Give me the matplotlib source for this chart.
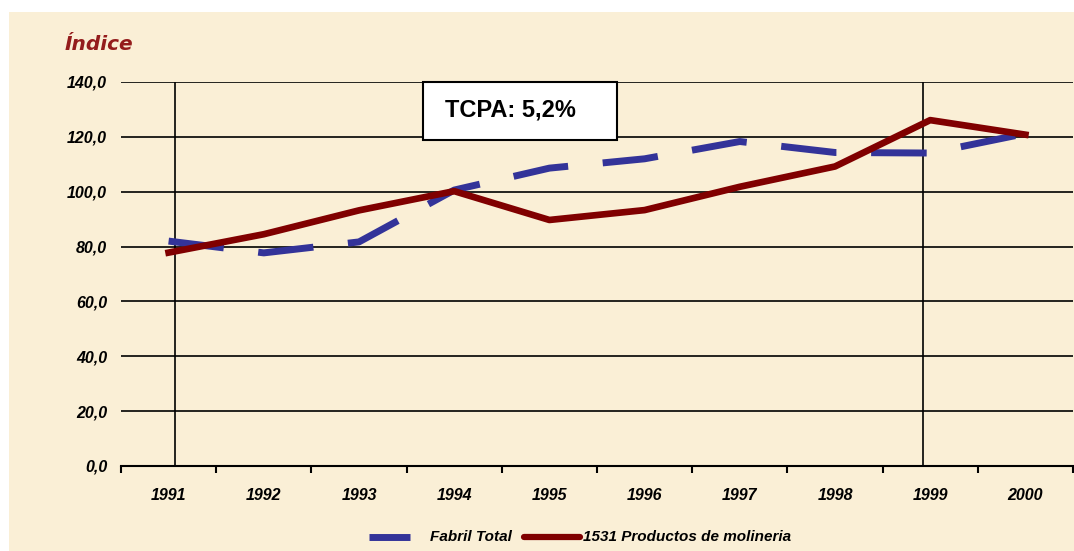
import matplotlib.pyplot as plt
from matplotlib.lines import Line2D

years = ['1991', '1992', '1993', '1994', '1995', '1996', '1997', '1998', '1999', '2000']
fabril_total = [82.0, 77.7, 81.7, 100.6, 108.6, 112.0, 118.3, 114.3, 114.1, 121.2]
molineria = [77.8, 84.5, 93.2, 100.2, 89.7, 93.3, 101.8, 109.2, 126.1, 120.8]
y_ticks = [0, 20, 40, 60, 80, 100, 120, 140]

bg = '#faefd6'
blue = '#333399'
red = '#800000'
W, H = 1074, 551

fig = plt.figure(figsize=(10.74, 5.51), dpi=100, facecolor=bg)
# white margins on the top and left of the original slide capture
fig.patches.append(plt.Rectangle((0, 1 - 12 / H), 1, 12 / H, transform=fig.transFigure,
                                 facecolor='white', edgecolor='none'))
fig.patches.append(plt.Rectangle((0, 0), 9 / W, 1, transform=fig.transFigure,
                                 facecolor='white', edgecolor='none'))

ax = fig.add_axes([121 / W, 1 - 466 / H, 952 / W, 384 / H])
ax.set_facecolor(bg)

x = list(range(len(years)))
ax.plot(x, fabril_total, color=blue, lw=5, dashes=(8, 5), solid_capstyle='butt', zorder=3)
ax.plot(x, molineria, color=red, lw=4.8, zorder=4)

ax.set_xlim(-0.5, len(years) - 0.5)
ax.set_ylim(0, 140)
ax.set_yticks(y_ticks)
ax.set_yticklabels([f'{v:.1f}'.replace('.', ',') for v in y_ticks],
                   fontfamily='Liberation Sans', fontsize=11.5, fontweight='bold', fontstyle='italic')
ax.tick_params(axis='y', length=0, pad=10)
for v in y_ticks[1:]:
    ax.axhline(v, color='black', lw=1.2, zorder=1)

# category ticks at the boundaries, labels in the middle
ax.set_xticks([i - 0.5 for i in range(len(years) + 1)])
ax.set_xticklabels([])
ax.set_xticks(x, minor=True)
ax.set_xticklabels(years, minor=True, fontfamily='Liberation Sans', fontsize=11.5,
                   fontweight='bold', fontstyle='italic')
ax.tick_params(axis='x', which='major', length=5, width=1.5, direction='out')
ax.tick_params(axis='x', which='minor', length=0, pad=16)

for s in ['left', 'right', 'top']:
    ax.spines[s].set_visible(False)
ax.spines['bottom'].set_linewidth(1.5)

ax.axvline(0.07, color='black', lw=1.2, zorder=2)
ax.axvline(7.92, color='black', lw=1.2, zorder=2)

fig.text(65 / W, 1 - 45 / H, 'Índice', color='#941c1c', fontsize=14.5, fontweight='bold',
         fontstyle='italic', fontfamily='DejaVu Sans', va='center', ha='left')

fig.patches.append(plt.Rectangle((423 / W, 1 - 140 / H), 194 / W, 58 / H,
                                 transform=fig.transFigure, facecolor='white', edgecolor='black',
                                 lw=1.5, zorder=5))
fig.text(510 / W, 1 - 110 / H, 'TCPA: 5,2%', fontsize=17, fontweight='bold',
         fontfamily='Liberation Sans', ha='center', va='center', zorder=6)

# legend drawn by hand to keep the original spacing
leg_y = 1 - 537 / H
leg_font = dict(fontfamily='Liberation Sans', fontsize=11, fontweight='bold', fontstyle='italic',
                va='center', ha='left')
fig.lines.append(Line2D([369 / W, 410 / W], [leg_y, leg_y], transform=fig.transFigure,
                        color=blue, lw=5, solid_capstyle='butt'))
fig.text(430 / W, leg_y, 'Fabril Total', **leg_font)
fig.lines.append(Line2D([524 / W, 580 / W], [leg_y, leg_y], transform=fig.transFigure,
                        color=red, lw=4.5, solid_capstyle='round'))
fig.text(583 / W, leg_y, '1531 Productos de molineria', **leg_font)

fig.savefig('out.png', dpi=100, facecolor=bg)
